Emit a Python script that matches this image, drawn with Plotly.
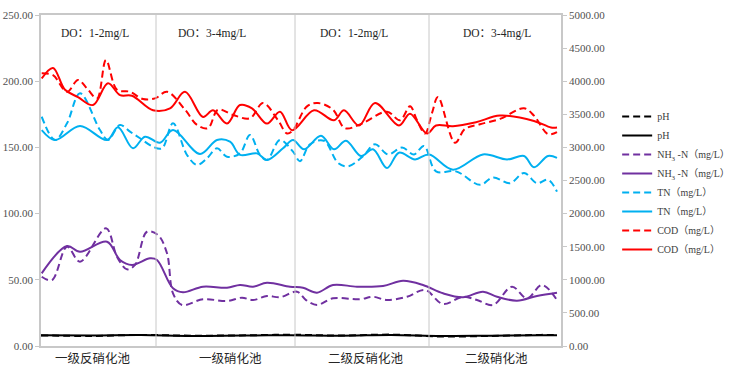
import plotly.graph_objects as go

# ---------------- data (x in sampling-position units, 0..52) ----------------
ph_x = [0, 5, 10, 15, 20, 25, 30, 35, 40, 45, 50, 51.6]
ph_solid = [8.2, 8.0, 8.3, 7.6, 7.9, 8.2, 7.8, 8.4, 7.6, 7.8, 8.1, 8.1]
ph_dash = [8.0, 7.6, 8.4, 7.8, 8.0, 8.5, 7.9, 8.6, 7.2, 7.6, 8.4, 8.3]

nh3_solid_x = [0.07, 2.6, 3.9, 6.6, 7.9, 9.1, 10.9, 11.6, 13.2, 14.2, 16.2, 18.6, 19.9,
               21.2, 22.6, 24.9, 26.2, 27.6, 29.2, 31.6, 34.2, 36.2, 38.2, 40.2, 42.2,
               44.2, 45.6, 47.6, 49.6, 51.6]
nh3_solid = [54.9, 75.5, 71.2, 78.8, 65.0, 61.2, 66.2, 65.0, 43.6, 40.6, 44.8, 44.0, 46.1,
             44.8, 47.8, 44.8, 44.0, 40.3, 46.1, 44.8, 45.3, 49.3, 46.1, 39.8, 36.8,
             41.0, 37.2, 34.2, 37.8, 40.3]
nh3_dash_x = [0.07, 1.1, 2.6, 3.9, 6.5, 7.6, 8.6, 9.4, 10.6, 11.7, 12.6, 13.2, 14.1, 16.2,
              18.6, 20.1, 21.2, 22.6, 23.9, 25.6, 26.5, 27.6, 29.2, 31.9, 33.2, 34.6, 36.6,
              38.4, 40.2, 42.2, 43.6, 45.2, 47.1, 48.6, 50.1, 51.6]
nh3_dash = [52.3, 49.8, 75.0, 63.7, 88.9, 67.4, 57.9, 61.2, 86.3, 83.8, 70.0, 39.8, 31.0, 35.3,
            34.0, 36.5, 34.7, 37.8, 36.8, 41.0, 34.7, 31.0, 36.0, 35.3, 37.2, 34.7, 37.2,
            42.3, 31.7, 37.2, 34.7, 31.0, 44.8, 36.0, 46.1, 34.7]

tn_solid_x = [0.07, 1.4, 3.9, 6.6, 7.7, 9.2, 10.4, 11.9, 13.2, 15.9, 17.6, 18.9, 19.9, 21.6,
              22.6, 24.2, 25.2, 26.3, 28.0, 29.3, 30.5, 32.0, 33.2, 34.6, 35.8, 37.4, 38.8,
              41.2, 44.2, 46.6, 48.3, 49.3, 50.7, 51.6]
tn_solid = [163.1, 155.6, 166.2, 155.6, 165.2, 149.3, 158.1, 153.5, 163.1, 145.0, 155.6, 154.3,
            144.3, 145.5, 140.5, 149.3, 155.6, 148.6, 158.8, 148.6, 155.0, 143.5, 148.6, 134.4,
            146.0, 140.9, 144.7, 133.2, 144.7, 140.9, 143.5, 135.0, 143.5, 142.1]
tn_dash_x = [0.07, 1.4, 2.6, 3.9, 5.9, 6.7, 7.9, 8.9, 9.9, 11.2, 12.1, 13.2, 14.6, 15.6, 16.6,
             17.6, 18.6, 19.9, 20.9, 21.9, 22.6, 23.9, 25.2, 25.9, 26.9, 28.3, 29.7, 30.7,
             32.2, 33.4, 34.7, 36.1, 37.3, 38.3, 39.5, 41.5, 43.9, 45.2, 46.9, 48.3, 49.6,
             50.7, 51.6]
tn_dash = [173.2, 155.6, 168.2, 190.9, 163.1, 155.6, 166.9, 161.9, 156.9, 150.5, 149.3, 168.2,
           144.3, 136.7, 141.8, 149.3, 143.0, 145.5, 159.4, 144.3, 140.5, 155.6, 146.8, 139.6,
           152.4, 155.0, 138.3, 135.7, 143.4, 152.4, 144.7, 149.9, 144.7, 151.1, 131.9, 131.9,
           121.7, 127.3, 123.0, 130.7, 123.0, 125.6, 116.6]

cod_solid_x = [0.07, 1.2, 2.4, 3.7, 5.2, 6.7, 7.9, 9.1, 11.2, 12.9, 14.4, 16.2, 17.2, 18.6,
               19.9, 21.1, 22.6, 23.9, 25.1, 27.3, 29.3, 30.3, 31.8, 33.4, 35.8, 36.9, 38.6,
               39.5, 41.2, 43.5, 45.9, 49.3, 51.0, 51.6]
cod_solid = [4040, 4200, 3870, 3760, 3640, 3970, 3790, 3780, 3560, 3590, 3840, 3460, 3560, 3360,
             3640, 3590, 3360, 3540, 3260, 3560, 3410, 3560, 3330, 3670, 3330, 3510, 3210,
             3330, 3320, 3380, 3480, 3400, 3300, 3300]
cod_dash_x = [0.07, 1.2, 2.6, 3.7, 4.6, 5.6, 6.5, 7.6, 8.9, 10.2, 11.4, 12.6, 14.4, 15.6, 16.7,
              17.7, 19.2, 20.9, 22.2, 23.7, 24.6, 25.2, 26.6, 27.7, 29.2, 30.4, 32.1, 34.6,
              35.9, 36.9, 37.6, 38.4, 39.1, 39.7, 41.4, 42.4, 43.9, 45.9, 48.3, 49.3, 50.7, 51.6]
cod_dash = [4120, 4090, 3840, 4020, 3890, 3740, 4320, 3870, 3840, 3730, 3740, 3840, 3570, 3340,
            3290, 3570, 3490, 3440, 3670, 3410, 3210, 3260, 3620, 3670, 3570, 3290, 3360, 3540,
            3410, 3620, 3410, 3210, 3520, 3760, 3070, 3280, 3350, 3430, 3590, 3480, 3200, 3230]

section_bounds = [11.5, 25.4, 38.8]
section_labels = ["一级反硝化池", "一级硝化池", "二级反硝化池", "二级硝化池"]
section_label_x = [5.2, 18.9, 32.5, 45.5]
do_labels = ["DO：1-2mg/L", "DO：3-4mg/L", "DO：1-2mg/L", "DO：3-4mg/L"]
do_label_x = [5.4, 17.1, 31.3, 45.6]

left_ticks = [0, 50, 100, 150, 200, 250]
right_ticks = [0, 500, 1000, 1500, 2000, 2500, 3000, 3500, 4000, 4500, 5000]

# ---------------- figure ----------------
BLACK, PURPLE, BLUE, RED = "#000000", "#7030A0", "#00B0F0", "#FF0000"
DASH = "7px,4px"
SERIF = "Liberation Serif, Times New Roman, serif"
CJK = "Noto Sans CJK SC, sans-serif"

fig = go.Figure()

def add(x, y, name, color, dashed, axis="y"):
    fig.add_trace(go.Scatter(
        x=x, y=y, name=name, mode="lines", yaxis=axis,
        line=dict(color=color, width=2, dash=DASH if dashed else "solid",
                  shape="spline", smoothing=1.0),
    ))

add(ph_x, ph_dash, "pH", BLACK, True)
add(ph_x, ph_solid, "pH", BLACK, False)
add(nh3_dash_x, nh3_dash, "NH<sub>3</sub> -N（mg/L）", PURPLE, True)
add(nh3_solid_x, nh3_solid, "NH<sub>3</sub> -N（mg/L）", PURPLE, False)
add(tn_dash_x, tn_dash, "TN（mg/L）", BLUE, True)
add(tn_solid_x, tn_solid, "TN（mg/L）", BLUE, False)
add(cod_dash_x, cod_dash, "COD（mg/L）", RED, True, "y2")
add(cod_solid_x, cod_solid, "COD（mg/L）", RED, False, "y2")

GRID = "#C8C8C8"
shapes = []
for b in section_bounds:
    shapes.append(dict(type="line", xref="x", yref="paper", x0=b, x1=b, y0=0, y1=1,
                       line=dict(color=GRID, width=1)))

annotations = []
for lx, t in zip(section_label_x, section_labels):
    annotations.append(dict(x=lx, y=-0.036, xref="x", yref="paper", text=t, showarrow=False,
                            font=dict(family=CJK, size=12.5, color="#262626"),
                            xanchor="center", yanchor="middle"))
for lx, t in zip(do_label_x, do_labels):
    annotations.append(dict(x=lx, y=0.943, xref="x", yref="paper", text=t, showarrow=False,
                            font=dict(family=SERIF + ", " + CJK, size=11.5, color="#262626"),
                            xanchor="center", yanchor="middle"))

tickfont = dict(family=SERIF, size=11, color="#505050")
fig.update_layout(
    width=731, height=368,
    margin=dict(l=41, r=170, t=15, b=22, autoexpand=False),
    paper_bgcolor="white", plot_bgcolor="white",
    xaxis=dict(range=[0, 52], showticklabels=False, showgrid=False, zeroline=False,
               showline=True, mirror=True, linecolor=GRID, linewidth=1.5, ticks="",
               automargin=False),
    yaxis=dict(range=[0, 250], tickvals=left_ticks, tickformat=".2f", showgrid=False,
               zeroline=False, showline=True, linecolor=GRID, linewidth=1.5,
               ticks="outside", ticklen=4, tickcolor=GRID, tickfont=tickfont,
               automargin=False),
    yaxis2=dict(range=[0, 5000], tickvals=right_ticks, tickformat=".2f", overlaying="y",
                side="right", showgrid=False, zeroline=False, showline=True, linecolor=GRID,
                linewidth=1.5, ticks="outside", ticklen=4, tickcolor=GRID, tickfont=tickfont,
                automargin=False),
    legend=dict(x=1.108, y=0.737, xanchor="left", yanchor="top", bgcolor="rgba(0,0,0,0)",
                font=dict(family=SERIF + ", " + CJK, size=10, color="#404040"),
                tracegroupgap=0, itemwidth=30),
    shapes=shapes, annotations=annotations,
)

# remove the page's default 8px body margin so the figure sits at the window origin
fig.write_html("out.html", config={"displayModeBar": False},
               post_script="document.body.style.margin='0';")
